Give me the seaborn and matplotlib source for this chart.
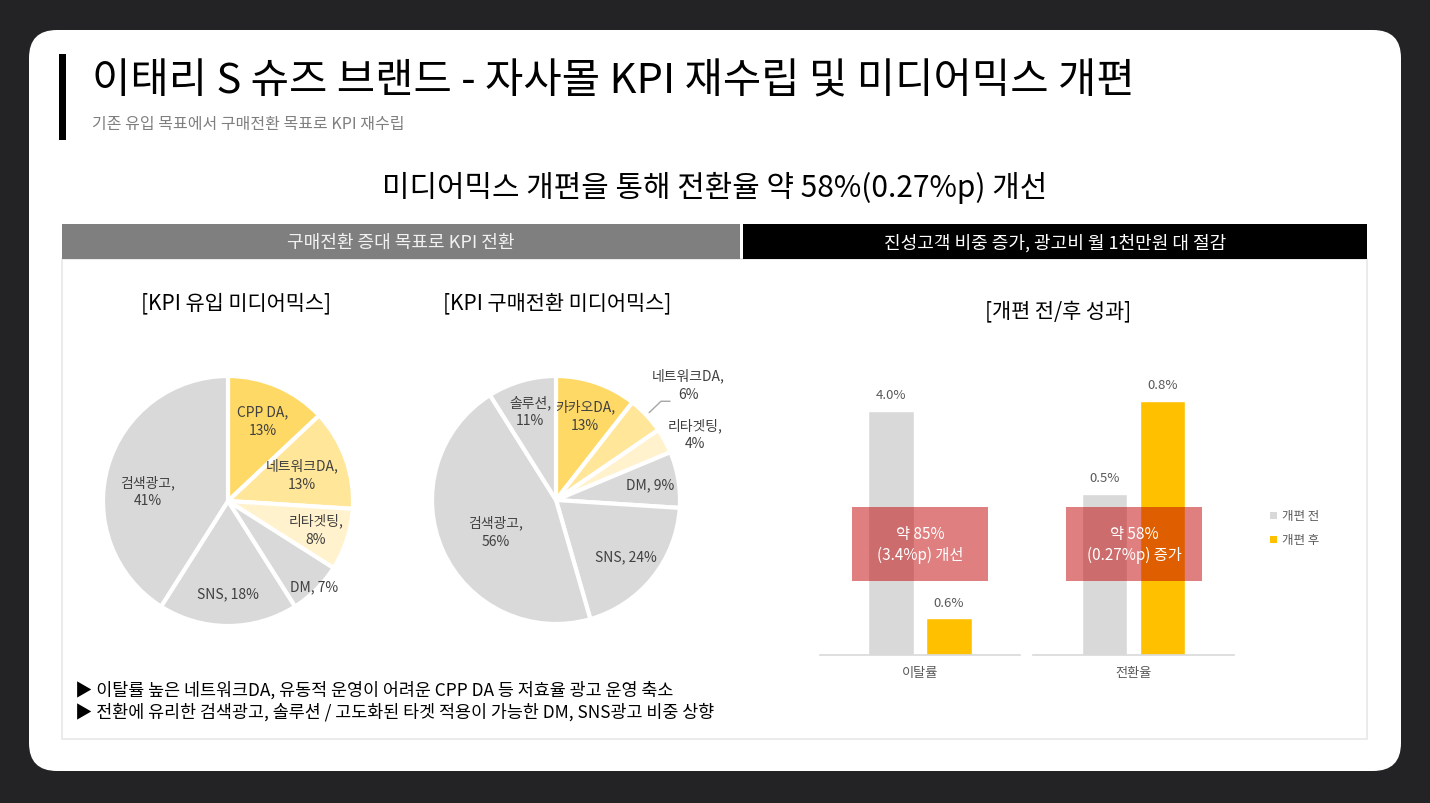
import numpy as np
import pandas as pd
import matplotlib
matplotlib.use('Agg')
import matplotlib.pyplot as plt
import seaborn as sns
from matplotlib.patches import FancyBboxPatch, Rectangle

# ---- data ----
pie1_names = ['CPP DA', '네트워크DA', '리타겟팅', 'DM', 'SNS', '검색광고']
pie1_values = [13, 13, 8, 7, 18, 41]
pie2_names = ['카카오DA', '네트워크DA', '리타겟팅', 'DM', 'SNS', '검색광고', '솔루션']
pie2_values = [13, 6, 4, 9, 24, 56, 11]

bar_metrics = ['이탈률', '전환율']
bar_groups = ['개편 전', '개편 후']
churn_values = [4.0, 0.6]
conv_values = [0.47, 0.74]
churn_labels = ['4.0%', '0.6%']
conv_labels = ['0.5%', '0.8%']
box_texts = ['약 85%\n(3.4%p) 개선', '약 58%\n(0.27%p) 증가']

title = '이태리 S 슈즈 브랜드 - 자사몰 KPI 재수립 및 미디어믹스 개편'
subtitle = '기존 유입 목표에서 구매전환 목표로 KPI 재수립'
headline = '미디어믹스 개편을 통해 전환율 약 58%(0.27%p) 개선'
header_left = '구매전환 증대 목표로 KPI 전환'
header_right = '진성고객 비중 증가, 광고비 월 1천만원 대 절감'
bullets = ['▶ 이탈률 높은 네트워크DA, 유동적 운영이 어려운 CPP DA 등 저효율 광고 운영 축소',
           '▶ 전환에 유리한 검색광고, 솔루션 / 고도화된 타겟 적용이 가능한 DM, SNS광고 비중 상향']

# ---- style ----
sns.set_theme(style='white')
plt.rcParams['font.family'] = ['Noto Sans CJK KR', 'DejaVu Sans']

GOLD1, GOLD2, GOLD3, GREY = '#FFD966', '#FFE699', '#FFF2CC', '#D9D9D9'
BAR_GREY, BAR_GOLD = '#D9D9D9', '#FFC000'
TXT = '#404040'

W, H = 1430, 804
fig = plt.figure(figsize=(W / 100, H / 100), dpi=100)
fig.patch.set_facecolor('#232325')


def px_axes(x0, y0, x1, y1, zorder=1):
    return fig.add_axes([x0 / W, 1 - y1 / H, (x1 - x0) / W, (y1 - y0) / H], zorder=zorder)


# background layer in pixel coordinates
bg = px_axes(0, 0, W, H, zorder=0)
bg.set_xlim(0, W)
bg.set_ylim(H, 0)
bg.axis('off')
bg.add_patch(FancyBboxPatch((29, 31), 1372, 741, boxstyle='round,pad=0,rounding_size=28',
                            fc='white', ec='none'))
bg.add_patch(Rectangle((59, 55), 7, 86, fc='black', ec='none'))
bg.text(92, 82, title, fontsize=30, color='black', va='center', ha='left')
bg.text(92, 124, subtitle, fontsize=11.5, color='#7F7F7F', va='center', ha='left')
bg.text(715, 188, headline, fontsize=21.5, color='black', va='center', ha='center')

bg.add_patch(Rectangle((62, 260), 1305, 480, fc='white', ec='#E8E8E8', lw=1.2))
bg.add_patch(Rectangle((62, 225), 678, 35, fc='#7F7F7F', ec='none'))
bg.add_patch(Rectangle((743, 225), 624, 35, fc='black', ec='none'))
bg.text(401, 243, header_left, fontsize=13, color='#F2F2F2', va='center', ha='center')
bg.text(1055, 243, header_right, fontsize=13, color='white', va='center', ha='center')

bg.text(236, 303, '[KPI 유입 미디어믹스]', fontsize=15, color='black', va='center', ha='center')
bg.text(557, 303, '[KPI 구매전환 미디어믹스]', fontsize=15, color='black', va='center', ha='center')
bg.text(1058, 311, '[개편 전/후 성과]', fontsize=15, color='black', va='center', ha='center')

for i, line in enumerate(bullets):
    bg.text(75, 690 + i * 22, line, fontsize=12.5, color='black', va='center', ha='left')


def draw_pie(ax, names, values, colors, dists, shifts):
    wedges, _ = ax.pie(values, colors=colors, startangle=90, counterclock=False,
                       wedgeprops=dict(edgecolor='white', linewidth=3))
    for w, name, v, d, s in zip(wedges, names, values, dists, shifts):
        ang = np.deg2rad((w.theta1 + w.theta2) / 2 + s)
        sep = ' ' if name in ('DM', 'SNS') else '\n'
        ax.text(d * np.cos(ang), d * np.sin(ang), f'{name},{sep}{v}%',
                ha='center', va='center', fontsize=10, color=TXT, linespacing=1.4)
    ax.set_xlim(-1, 1)
    ax.set_ylim(-1, 1)
    ax.set_aspect('equal')
    ax.axis('off')
    return wedges


ax_p1 = px_axes(103, 377, 353, 627)
draw_pie(ax_p1, pie1_names, pie1_values,
         [GOLD1, GOLD2, GOLD3, GREY, GREY, GREY],
         [0.7, 0.63, 0.74, 0.97, 0.74, 0.65],
         [0, 0, 0, 0, 0, 9])

ax_p2 = px_axes(432, 377, 680, 625)
w2 = draw_pie(ax_p2, pie2_names, pie2_values,
              [GOLD1, GOLD2, GOLD3, GREY, GREY, GREY, GREY],
              [0.72, 1.42, 1.24, 0.77, 0.72, 0.55, 0.75],
              [0, -2, -3, 0, 0, 3, 0])
ang = np.deg2rad((w2[1].theta1 + w2[1].theta2) / 2)
ax_p2.plot([1.03 * np.cos(ang), 1.12 * np.cos(ang) + 0.03, 1.22 * np.cos(ang) + 0.03],
           [1.03 * np.sin(ang), 1.12 * np.sin(ang) + 0.03, 1.12 * np.sin(ang) + 0.03],
           color='#A6A6A6', lw=1, clip_on=False)

# ---- bar charts ----
palette = {bar_groups[0]: BAR_GREY, bar_groups[1]: BAR_GOLD}


def draw_bars(ax, metric, values, labels, ymax):
    df = pd.DataFrame({'지표': [metric] * 2, '구분': bar_groups, '값': values})
    sns.barplot(data=df, x='지표', y='값', hue='구분', palette=palette, ax=ax,
                width=0.8, gap=0.22, legend=False, saturation=1)
    for cont, lab in zip(ax.containers, labels):
        ax.bar_label(cont, labels=[lab], padding=7, fontsize=9.5, color='#595959')
    ax.set_xlim(-0.69, 0.69)
    ax.set_ylim(0, ymax)
    ax.set_xlabel('')
    ax.set_ylabel('')
    ax.set_yticks([])
    ax.tick_params(axis='x', length=0, labelsize=9.5, labelcolor='#595959', pad=8)
    sns.despine(ax=ax, left=True)
    ax.spines['bottom'].set_color('#D9D9D9')
    ax.spines['bottom'].set_linewidth(1.2)
    ax.patch.set_alpha(0)


ax_b1 = px_axes(820, 380, 1020, 656)
draw_bars(ax_b1, bar_metrics[0], churn_values, churn_labels, 4.52)
ax_b2 = px_axes(1033, 380, 1234, 656)
draw_bars(ax_b2, bar_metrics[1], conv_values, conv_labels, 0.804)

# overlay boxes on top of bars
top = px_axes(0, 0, W, H, zorder=5)
top.set_xlim(0, W)
top.set_ylim(H, 0)
top.axis('off')
top.patch.set_alpha(0)
for x0, txt in zip([852, 1066], box_texts):
    top.add_patch(Rectangle((x0, 508), 136, 74, fc='#C00000', alpha=0.5, ec='none'))
    top.text(x0 + 68, 545, txt, fontsize=11, color='white', ha='center', va='center',
             linespacing=1.3)

# legend
for i, (g, c) in enumerate(palette.items()):
    top.add_patch(Rectangle((1270, 513 + i * 24), 7, 7, fc=c, ec='none'))
    top.text(1282, 517 + i * 24, g, fontsize=9, color='#595959', ha='left', va='center')

fig.savefig('out.png', dpi=100, facecolor=fig.get_facecolor())
